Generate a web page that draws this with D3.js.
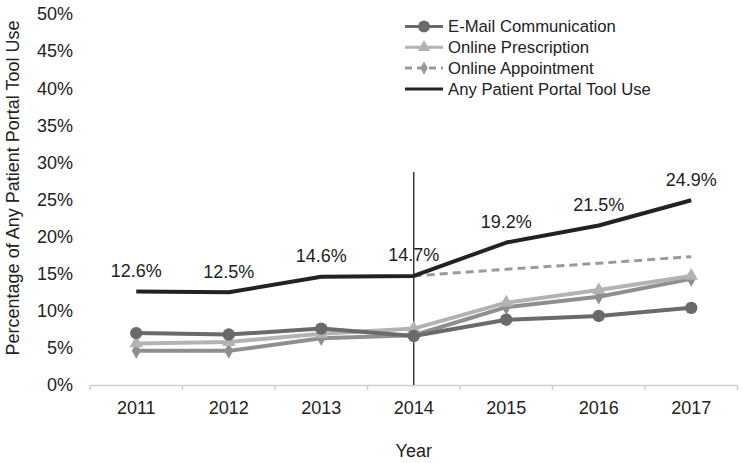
<!DOCTYPE html>
<html><head><meta charset="utf-8">
<script src="https://cdn.jsdelivr.net/npm/d3@7"></script>
<style>body{margin:0;background:#fff}svg{display:block}text{font-family:"Liberation Sans",Arial,sans-serif;fill:#222}</style>
</head><body><svg id="c" width="742" height="463"></svg>
<script>
const years = ["2011","2012","2013","2014","2015","2016","2017"];
const email = [7.0, 6.8, 7.6, 6.6, 8.8, 9.3, 10.4];
const prescription = [5.6, 5.8, 6.9, 7.6, 11.1, 12.8, 14.7];
const appointment = [4.6, 4.6, 6.3, 6.7, 10.5, 11.9, 14.3];
const anyUse = [12.6, 12.5, 14.6, 14.7, 19.2, 21.5, 24.9];
const trend = [null, null, null, 14.7, 15.6, 16.4, 17.3];
const yTicks = [0,5,10,15,20,25,30,35,40,45,50];
const legendLabels = ["E-Mail Communication","Online Prescription","Online Appointment","Any Patient Portal Tool Use"];

const svg = d3.select("#c");
const x = d3.scaleBand().domain(years).range([90, 737.5]);
const y = d3.scaleLinear().domain([0, 50]).range([385, 14]);
const cx = d => x(d) + x.bandwidth()/2;
const FONT = '"Liberation Sans",Arial,sans-serif';

// y tick labels
svg.append("g").selectAll("text").data(yTicks).join("text")
  .attr("x", 73).attr("y", d => y(d)).attr("dy", "0.35em")
  .attr("text-anchor", "end").attr("font-size", 18).text(d => d + "%");

// x axis
const xa = svg.append("g").attr("transform", "translate(0,385)")
  .call(d3.axisBottom(x).tickSize(0).tickPadding(16));
xa.select(".domain").attr("stroke", "#cfcfcf").attr("stroke-width", 1.5);
xa.selectAll("text").attr("font-size", 18).attr("fill", "#222").attr("font-family", FONT);
// category boundary ticks
svg.append("g").selectAll("line").data(years.concat(["end"])).join("line")
  .attr("x1", (d, i) => i < years.length ? x(d) : x.range()[1])
  .attr("x2", (d, i) => i < years.length ? x(d) : x.range()[1])
  .attr("y1", 385).attr("y2", 390).attr("stroke", "#cfcfcf").attr("stroke-width", 1.5);

// titles
svg.append("text").attr("x", cx("2014")).attr("y", 451).attr("dy", "0.35em").attr("text-anchor", "middle").attr("font-size", 18).text("Year");
svg.append("text").attr("transform", "translate(13,188) rotate(-90)").attr("dy", "0.35em").attr("text-anchor", "middle").attr("font-size", 18)
  .text("Percentage of Any Patient Portal Tool Use");

// vertical marker line at 2014
svg.append("line").attr("x1", cx("2014")).attr("x2", cx("2014")).attr("y1", 172).attr("y2", 385)
  .attr("stroke", "#222").attr("stroke-width", 1.3);

const line = d3.line().defined(d => d.v != null).x(d => cx(d.k)).y(d => y(d.v));
const pts = arr => years.map((k, i) => ({k, v: arr[i]}));

const series = [
  {data: appointment, color: "#8f8f8f", sym: d3.symbolDiamond, size: 70, w: 4},
  {data: prescription, color: "#b3b3b3", sym: d3.symbolTriangle, size: 80, w: 4},
  {data: email, color: "#6a6a6a", sym: d3.symbolCircle, size: 120, w: 4},
];
series.forEach(s => {
  svg.append("path").attr("d", line(pts(s.data))).attr("fill", "none")
    .attr("stroke", s.color).attr("stroke-width", s.w).attr("stroke-linejoin", "round");
  svg.append("g").selectAll("path").data(pts(s.data)).join("path")
    .attr("transform", d => `translate(${cx(d.k)},${y(d.v)})`)
    .attr("d", d3.symbol().type(s.sym).size(s.size)).attr("fill", s.color);
});

// dashed trend
svg.append("path").attr("d", line(pts(trend))).attr("fill", "none")
  .attr("stroke", "#9a9a9a").attr("stroke-width", 3).attr("stroke-dasharray", "8,5");

// any use line
svg.append("path").attr("d", line(pts(anyUse))).attr("fill", "none")
  .attr("stroke", "#222").attr("stroke-width", 4).attr("stroke-linejoin", "round");

// data labels
svg.append("g").selectAll("text").data(pts(anyUse)).join("text")
  .attr("x", d => cx(d.k)).attr("y", d => y(d.v) - 21).attr("dy", "0.35em")
  .attr("text-anchor", "middle").attr("font-size", 18).text(d => d.v.toFixed(1) + "%");

// legend
const lg = svg.append("g");
const legendStyles = [
  {color: "#6a6a6a", sym: d3.symbolCircle, size: 110, dash: null},
  {color: "#b3b3b3", sym: d3.symbolTriangle, size: 70, dash: null},
  {color: "#9a9a9a", sym: d3.symbolDiamond, size: 50, dash: "7,5"},
  {color: "#222", sym: null, size: 0, dash: null},
];
legendLabels.forEach((lab, i) => {
  const ly = 26.5 + i * 20.8;
  const st = legendStyles[i];
  lg.append("line").attr("x1", 405).attr("x2", 443).attr("y1", ly).attr("y2", ly)
    .attr("stroke", st.color).attr("stroke-width", 3).attr("stroke-dasharray", st.dash);
  if (st.sym) lg.append("path").attr("transform", `translate(424,${ly})`)
    .attr("d", d3.symbol().type(st.sym).size(st.size)).attr("fill", st.color);
  lg.append("text").attr("x", 448).attr("y", ly).attr("dy", "0.35em").attr("font-size", 16.7).text(lab);
});
</script></body></html>
